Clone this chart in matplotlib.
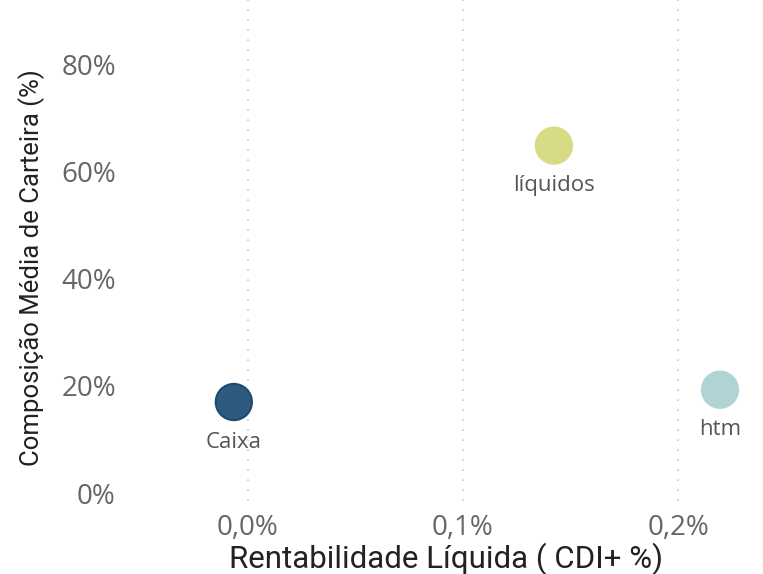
import matplotlib.pyplot as plt
from matplotlib.ticker import FuncFormatter

# data
names = ["Caixa", "líquidos", "htm"]
rentabilidade = [-0.0065, 0.1423, 0.2195]   # CDI+ %
composicao = [17.0, 64.9, 19.3]             # % of portfolio
colors = ["#2E5A80", "#D7DB84", "#B0D4D4"]
edges = ["#1F4A70", "#D7DB84", "#B0D4D4"]

x_ticks = [0.0, 0.1, 0.2]
y_ticks = [0, 20, 40, 60, 80]

fig = plt.figure(figsize=(7.63, 5.74), dpi=100)
ax = fig.add_axes([0.17, 0.128, 0.83, 0.872])

ax.scatter(rentabilidade, composicao, s=680, c=colors, edgecolors=edges,
           linewidths=1.5, zorder=3)

for name, x, y in zip(names, rentabilidade, composicao):
    ax.annotate(name, (x, y), xytext=(0, -29), textcoords="offset points",
                ha="center", va="center", fontsize=16, color="#555555",
                family="Open Sans")

ax.set_xlim(-0.0549, 0.2395)
ax.set_ylim(-1.4, 92.1)
ax.set_xticks(x_ticks)
ax.set_yticks(y_ticks)
ax.xaxis.set_major_formatter(FuncFormatter(lambda v, p: f"{v:.1f}%".replace(".", ",")))
ax.yaxis.set_major_formatter(FuncFormatter(lambda v, p: f"{v:.0f}%"))
ax.tick_params(length=0, labelsize=20, labelcolor="#666666", pad=10)
for lbl in ax.get_xticklabels() + ax.get_yticklabels():
    lbl.set_family("Open Sans")

ax.grid(axis="x", color="#C8C8C8", linestyle=(0, (1, 5)), linewidth=1.2)
for s in ax.spines.values():
    s.set_visible(False)

ax.set_xlabel("Rentabilidade Líquida ( CDI+ %)", fontsize=22.5, color="#222222",
              family="Roboto", labelpad=0)
ax.set_ylabel("Composição Média de Carteira (%)", fontsize=18.5, color="#222222",
              family="Roboto")
ax.yaxis.set_label_coords(-0.134, 0.465)

fig.savefig("out.png", dpi=100)
